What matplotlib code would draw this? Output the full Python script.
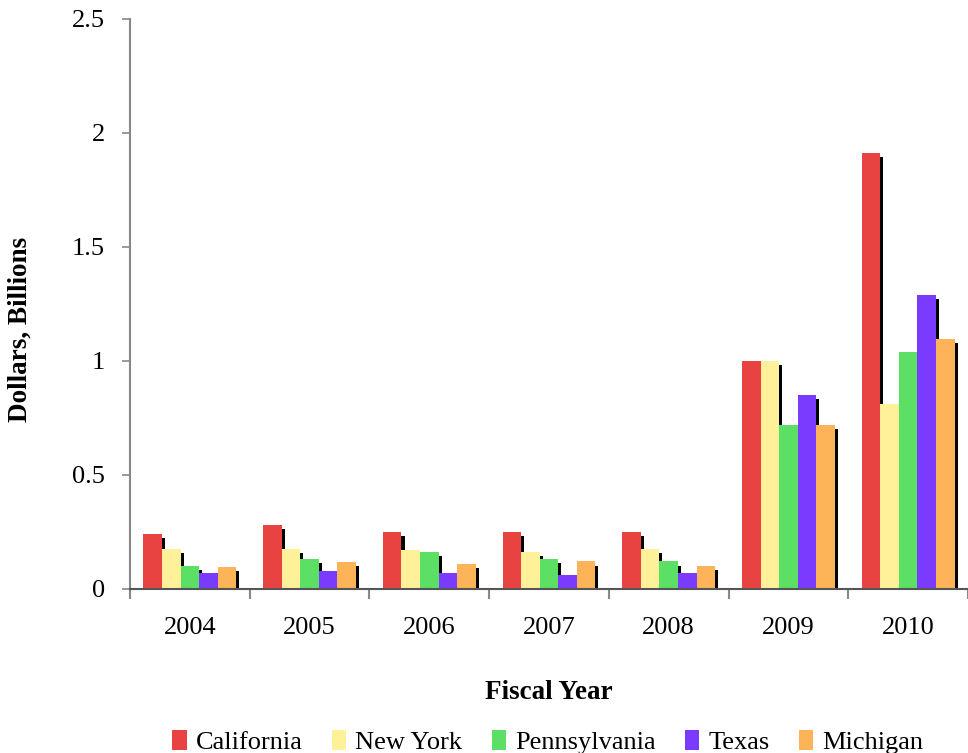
import numpy as np
import matplotlib.pyplot as plt
import matplotlib.patheffects as pe
from matplotlib.patches import Patch

plt.rcParams['font.family'] = ['Liberation Serif', 'DejaVu Serif']

years = ['2004', '2005', '2006', '2007', '2008', '2009', '2010']
states = ['California', 'New York', 'Pennsylvania', 'Texas', 'Michigan']
california = [0.24, 0.28, 0.25, 0.25, 0.25, 1.00, 1.91]
new_york = [0.175, 0.175, 0.17, 0.16, 0.175, 1.00, 0.81]
pennsylvania = [0.10, 0.133, 0.16, 0.13, 0.12, 0.72, 1.04]
texas = [0.07, 0.08, 0.07, 0.06, 0.07, 0.85, 1.29]
michigan = [0.095, 0.117, 0.11, 0.12, 0.10, 0.72, 1.095]
colors = ['#E84340', '#FFF199', '#5BE065', '#7B3BFF', '#FDB358']

series = [california, new_york, pennsylvania, texas, michigan]

fig = plt.figure(figsize=(9.68, 7.53), dpi=100)
ax = fig.add_axes([0.1343, 0.218, 0.8657, 0.757])

x = np.arange(len(years))
w = 0.155
# black drop shadow to the lower right of every bar
shadow = [pe.SimplePatchShadow(offset=(2.2, -2.9), shadow_rgbFace='black', alpha=1.0), pe.Normal()]
for i, (vals, c) in enumerate(zip(series, colors)):
    bars = ax.bar(x + (i - 2) * w, vals, w, color=c, zorder=2)
    for b in bars:
        b.set_path_effects(shadow)

ax.set_xlim(-0.5, 6.48)
ax.set_ylim(0, 2.5)
ax.set_yticks([0, 0.5, 1, 1.5, 2, 2.5])
ax.set_yticklabels(['0', '0.5', '1', '1.5', '2', '2.5'])
ax.set_xticks(x)
ax.set_xticklabels(years)
ax.set_xticks(np.arange(-0.5, 7, 1), minor=True)
ax.tick_params(axis='x', which='major', length=0, pad=20, labelsize=19)
ax.tick_params(axis='x', which='minor', length=7, width=1.5, color='#888888', direction='out')
ax.tick_params(axis='y', length=6, width=1.2, color='#888888', pad=12, labelsize=19)

for s in ['top', 'right']:
    ax.spines[s].set_visible(False)
ax.spines['left'].set_color('#888888')
ax.spines['left'].set_linewidth(1.5)
ax.spines['bottom'].set_color('#555555')
ax.spines['bottom'].set_linewidth(1.5)

ax.set_ylabel('Dollars, Billions', fontsize=19.5, fontweight='bold', va='center')
ax.yaxis.set_label_coords(-0.131, 0.455)
ax.set_xlabel('Fiscal Year', fontsize=19.5, fontweight='bold')
ax.xaxis.set_label_coords(0.5, -0.16)

handles = [Patch(facecolor=c, edgecolor='none') for c in colors]
fig.legend(handles, states, loc='center', bbox_to_anchor=(0.566, 0.015), ncol=5, frameon=False,
           fontsize=19, handlelength=0.55, handleheight=0.8, handletextpad=0.35,
           columnspacing=1.1)

fig.savefig('out.png', dpi=100)
